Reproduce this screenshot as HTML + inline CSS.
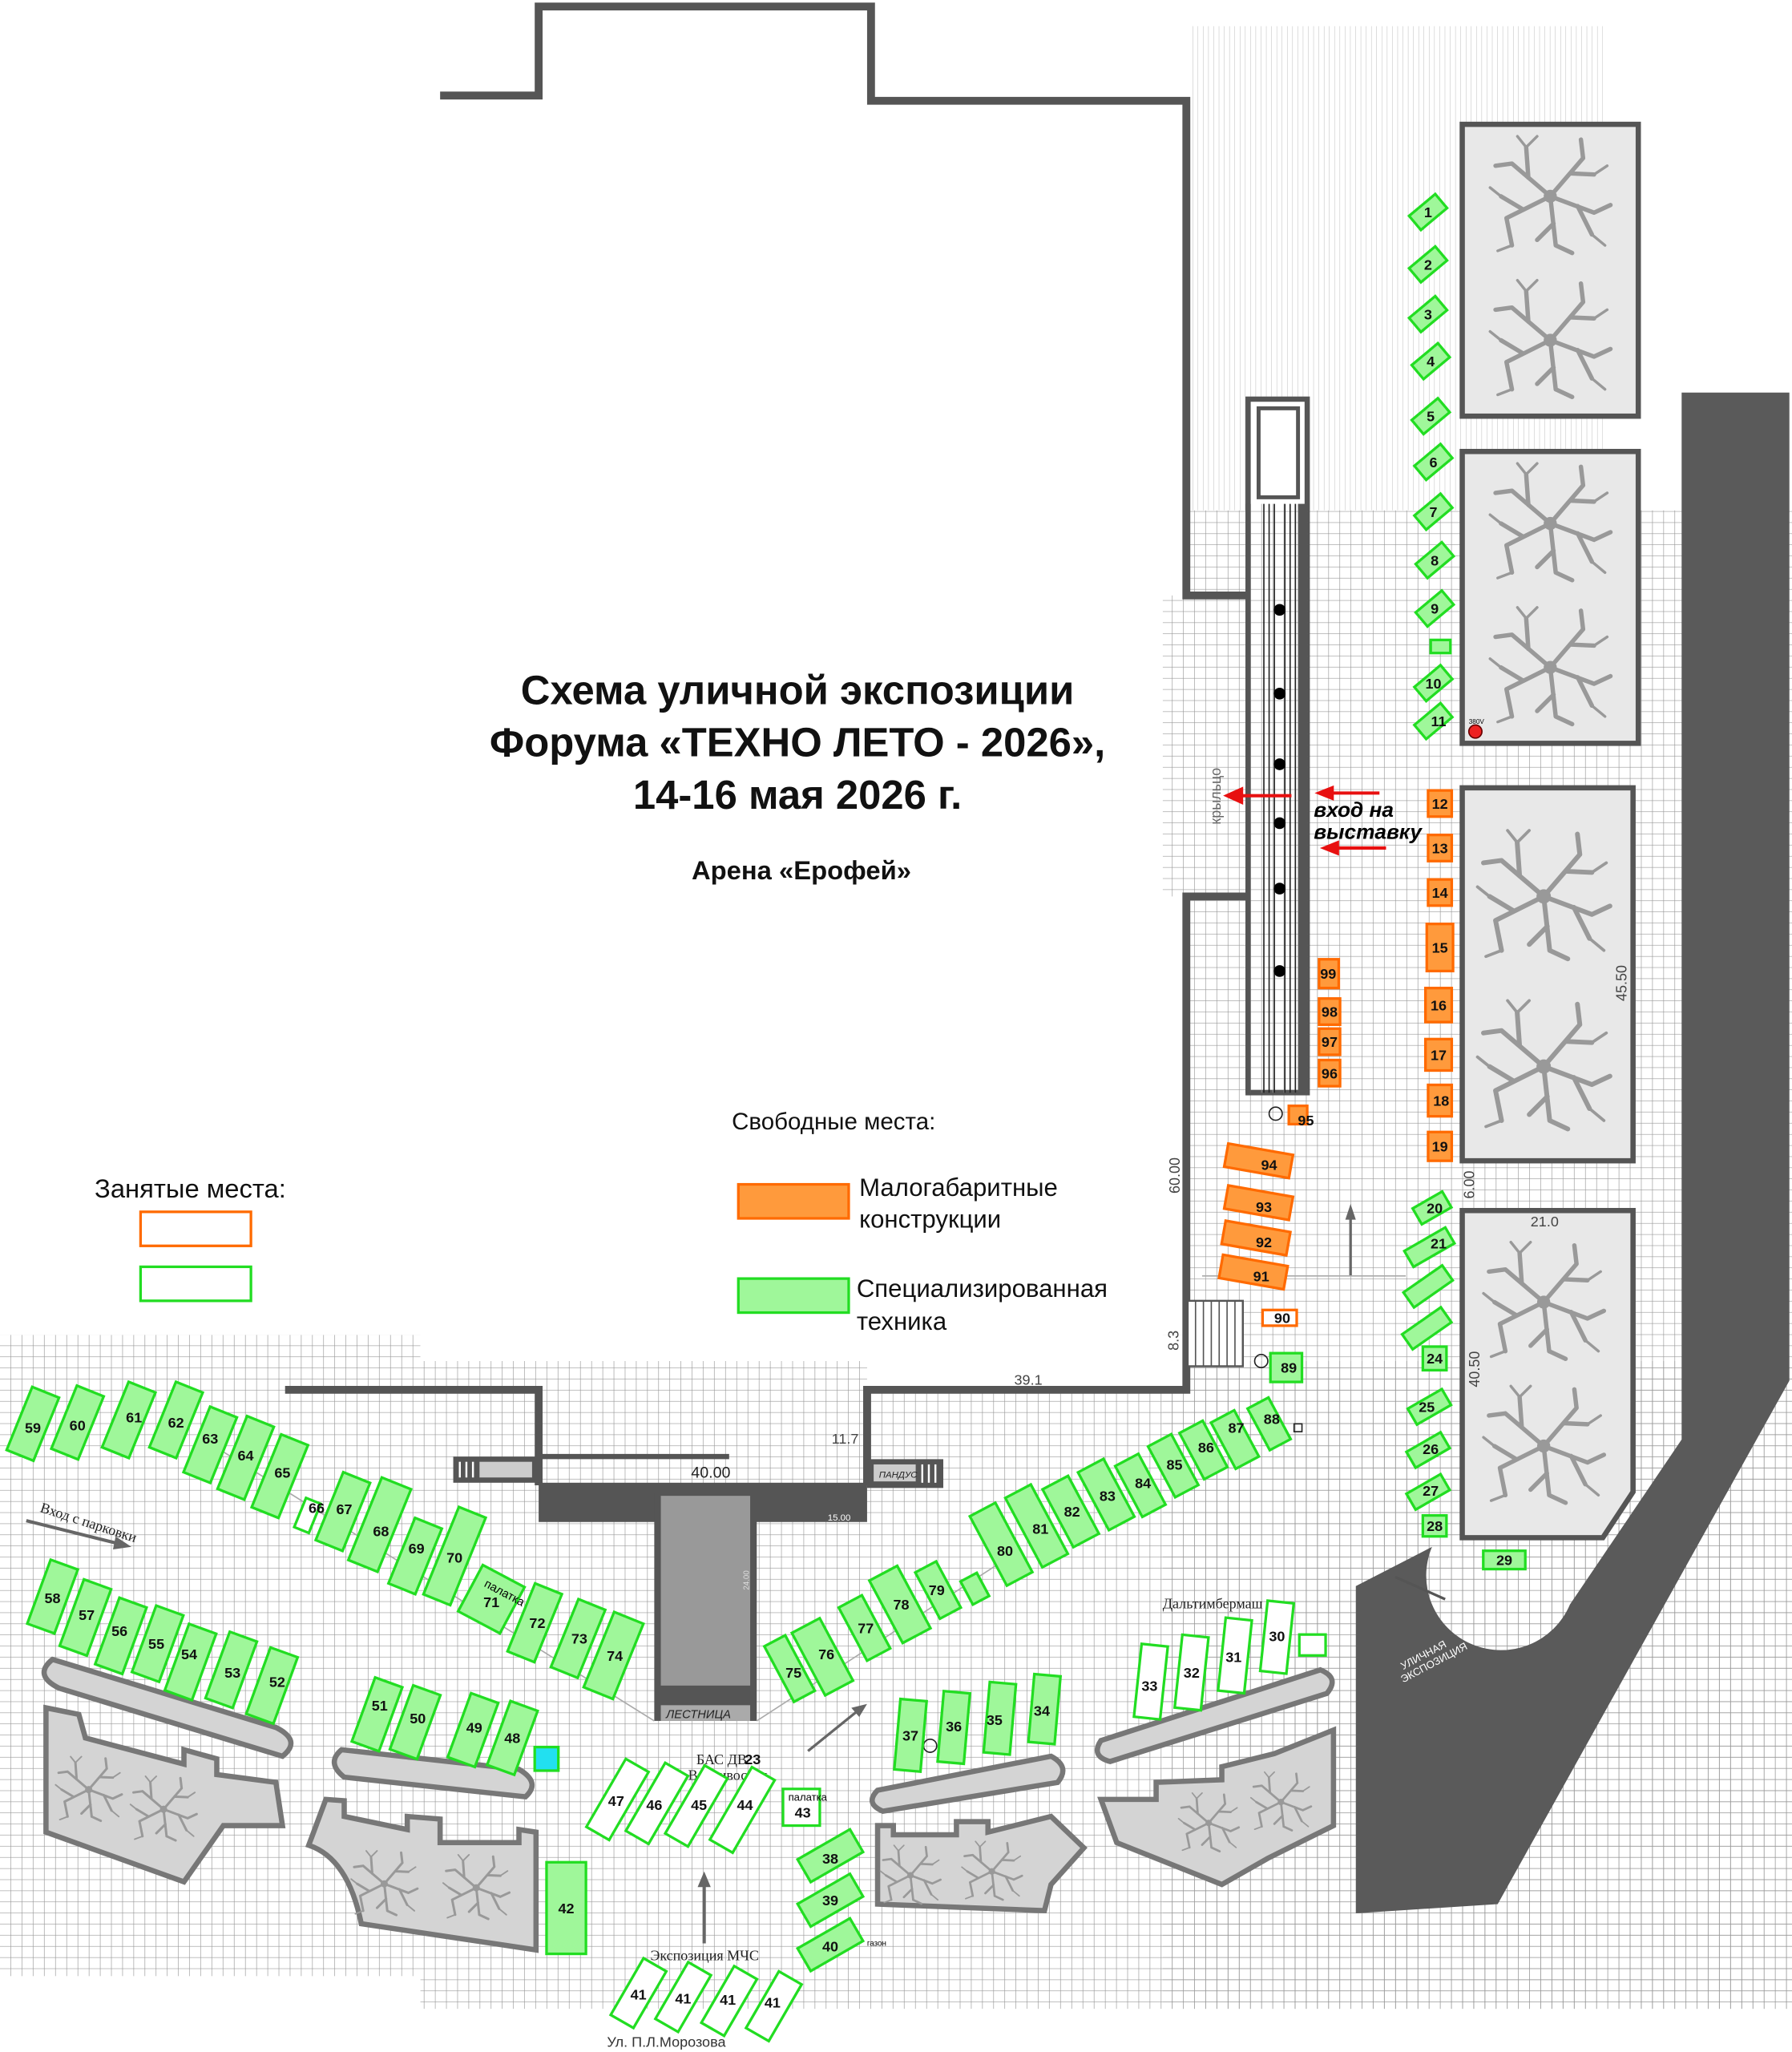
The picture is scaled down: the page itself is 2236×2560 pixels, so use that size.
<!DOCTYPE html>
<html><head><meta charset="utf-8"><style>
html,body{margin:0;padding:0;background:#fff}
svg{display:block}
text{font-family:"Liberation Sans",sans-serif}
.g{fill:#9ff79a;stroke:#22dd22;stroke-width:2}
.o{fill:#ff9a3c;stroke:#ff6a00;stroke-width:2}
.w{fill:#fff;stroke:#22dd22;stroke-width:2}
.wo{fill:#fff;stroke:#ff6a00;stroke-width:2}
.n{font-weight:bold;font-size:11px;text-anchor:middle;fill:#111}
.wall{fill:none;stroke:#555;stroke-width:6}
.pl{fill:#d4d4d4;stroke:#777;stroke-width:4}
.tb{fill:#e8e8e8;stroke:#555;stroke-width:4}
.s{font-family:"Liberation Serif",serif;font-size:11px;fill:#222}
.dim{font-size:11px;fill:#444}
</style></head><body>
<svg width="2236" height="2560" viewBox="0 0 1364 1568" preserveAspectRatio="none" xmlns="http://www.w3.org/2000/svg">
<defs>
<pattern id="grid" width="8.5" height="8.5" patternUnits="userSpaceOnUse">
<path d="M8.5 0V8.5M0 8.5H8.5" stroke="#999" stroke-width="0.8" fill="none"/>
</pattern>
<pattern id="grid2" width="4" height="8.5" patternUnits="userSpaceOnUse">
<path d="M4 0V8.5" stroke="#bbb" stroke-width="0.6" fill="none"/>
</pattern>
<symbol id="tree" viewBox="-60 -60 120 120">
<g stroke="#999" fill="none" stroke-width="4" stroke-linecap="round">
<path d="M0 0L-35 -30M-20 -17L-22 -45M-35 -30L-50 -28M0 0L30 -35M18 -21L40 -20M30 -35L28 -52M0 0L40 15M25 9L38 35M40 15L55 8M0 0L-40 20M-25 12L-45 0M-40 20L-35 45M0 0L5 45M3 25L-12 40M5 45L20 52"/>
<path d="M-22 -45L-30 -55M-22 -45L-12 -55M40 -20L52 -28M38 35L50 45M-35 45L-48 50M-45 0L-55 -8" stroke-width="2.5"/>
</g>
<circle r="6" fill="#999"/>
</symbol>
</defs>

<rect x="905" y="20" width="315" height="370" fill="url(#grid2)"/>
<rect x="885" y="390" width="479" height="1145" fill="url(#grid)"/>
<rect x="0" y="1020" width="320" height="490" fill="url(#grid)"/>
<rect x="320" y="1040" width="1044" height="495" fill="url(#grid)"/>
<rect x="0" y="0" width="903" height="455" fill="#fff"/>
<rect x="0" y="455" width="885" height="230" fill="#fff"/>
<rect x="0" y="685" width="903" height="335" fill="#fff"/>
<rect x="320" y="1020" width="583" height="20" fill="#fff"/>
<rect x="660" y="1040" width="243" height="22" fill="#fff"/>

<polyline class="wall" points="335,73 410,73 410,5 663,5 663,77 903,77 903,455 950,455"/>
<polyline class="wall" points="950,685 903,685 903,1062 660,1062 660,1135"/>
<polyline class="wall" points="217,1062 410,1062 410,1135"/>
<rect x="950" y="305" width="45" height="530" fill="#fff" stroke="#555" stroke-width="4"/>
<rect x="958" y="312" width="30" height="68" fill="#fff" stroke="#555" stroke-width="3"/>
<rect x="950" y="385" width="45" height="450" fill="url(#grid)"/>
<g stroke="#222" stroke-width="1">
<line x1="962" y1="385" x2="962" y2="835"/><line x1="966" y1="385" x2="966" y2="835"/><line x1="970" y1="385" x2="970" y2="835"/><line x1="978" y1="385" x2="978" y2="835"/><line x1="982" y1="385" x2="982" y2="835"/><line x1="986" y1="385" x2="986" y2="835"/>
</g>
<rect x="988" y="385" width="7" height="450" fill="#555"/>
<line x1="950" y1="385" x2="950" y2="835" stroke="#555" stroke-width="4"/>
<g fill="#000"><circle cx="974" cy="466" r="4.5"/><circle cx="974" cy="530" r="4.5"/><circle cx="974" cy="584" r="4.5"/><circle cx="974" cy="629" r="4.5"/><circle cx="974" cy="679" r="4.5"/><circle cx="974" cy="742" r="4.5"/></g>
<g stroke="#e81010" stroke-width="2.5" fill="#e81010">
<line x1="983" y1="608" x2="942" y2="608"/><polygon points="934,608 945,603 945,613"/>
<line x1="1050" y1="606" x2="1012" y2="606"/><polygon points="1004,606 1014,602 1014,610"/>
<line x1="1055" y1="648" x2="1016" y2="648"/><polygon points="1008,648 1018,644 1018,652"/>
</g>
<text x="1000" y="624" font-size="16" font-weight="bold" font-style="italic">вход на</text>
<text x="1000" y="641" font-size="16" font-weight="bold" font-style="italic">выставку</text>
<text transform="translate(929,630) rotate(-90)" font-size="11" fill="#666">крыльцо</text>

<g font-weight="bold" text-anchor="middle" fill="#111">
<text x="607" y="538" font-size="31">Схема уличной экспозиции</text>
<text x="607" y="578" font-size="31">Форума «ТЕХНО ЛЕТО - 2026»,</text>
<text x="607" y="618" font-size="31">14-16 мая 2026 г.</text>
<text x="610" y="672" font-size="20">Арена «Ерофей»</text>
</g>
<text x="557" y="863" font-size="18" fill="#111">Свободные места:</text>
<rect x="562" y="905" width="84" height="26" class="o"/>
<text x="654" y="914" font-size="19" fill="#111">Малогабаритные</text>
<text x="654" y="938" font-size="19" fill="#111">конструкции</text>
<rect x="562" y="977" width="84" height="26" class="g"/>
<text x="652" y="991" font-size="19" fill="#111">Специализированная</text>
<text x="652" y="1016" font-size="19" fill="#111">техника</text>
<text x="72" y="915" font-size="20" fill="#111">Занятые места:</text>
<rect x="107" y="926" width="84" height="26" class="wo"/>
<rect x="107" y="968" width="84" height="26" class="w"/>

<rect class="tb" x="1113" y="95" width="134" height="223"/>
<rect class="tb" x="1113" y="345" width="134" height="223"/>
<rect class="tb" x="1113" y="602" width="130" height="285"/>
<polygon class="tb" points="1113,925 1243,925 1243,1140 1220,1175 1113,1175"/>
<use href="#tree" x="1125" y="100" width="110" height="100"/>
<use href="#tree" x="1125" y="210" width="110" height="100"/>
<use href="#tree" x="1125" y="350" width="110" height="100"/>
<use href="#tree" x="1125" y="460" width="110" height="100"/>
<use href="#tree" x="1120" y="630" width="110" height="110"/>
<use href="#tree" x="1120" y="760" width="110" height="110"/>
<use href="#tree" x="1120" y="945" width="110" height="100"/>
<use href="#tree" x="1120" y="1055" width="110" height="100"/>
<text transform="translate(1238,765) rotate(-90)" class="dim">45.50</text>
<text transform="translate(1126,1060) rotate(-90)" class="dim">40.50</text>
<text x="1165" y="937" class="dim">21.0</text>
<text transform="translate(1122,916) rotate(-90)" class="dim" font-size="10">6.00</text>
<text transform="translate(898,912) rotate(-90)" class="dim">60.00</text>
<text transform="translate(897,1032) rotate(-90)" class="dim">8.3</text>
<text x="772" y="1058" class="dim">39.1</text>
<text x="633" y="1103" class="dim">11.7</text>

<path d="M1280,300 L1362,300 L1362,1055 L1140,1455 L1032,1462 L1032,1212 L1090,1182 A55 55 0 0 0 1195,1226 L1280,1100 Z" fill="#5a5a5a"/>
<text transform="translate(1068,1276) rotate(-28)" font-size="8" fill="#fff">УЛИЧНАЯ</text>
<text transform="translate(1068,1286) rotate(-28)" font-size="8" fill="#fff">ЭКСПОЗИЦИЯ</text>
<line x1="1100" y1="1222" x2="1062" y2="1205" stroke="#555" stroke-width="2"/>

<rect x="345" y="1113" width="65" height="20" fill="#555"/>
<rect x="365" y="1117" width="40" height="12" fill="#ccc"/>
<g stroke="#fff" stroke-width="1.5"><line x1="350" y1="1117" x2="350" y2="1129"/><line x1="355" y1="1117" x2="355" y2="1129"/><line x1="360" y1="1117" x2="360" y2="1129"/></g>
<rect x="660" y="1115" width="58" height="22" fill="#555"/>
<rect x="665" y="1119" width="32" height="13" fill="#ccc"/>
<text x="669" y="1129" font-size="7" font-style="italic" fill="#222">ПАНДУС</text>
<g stroke="#fff" stroke-width="1.5"><line x1="702" y1="1119" x2="702" y2="1133"/><line x1="707" y1="1119" x2="707" y2="1133"/><line x1="712" y1="1119" x2="712" y2="1133"/></g>
<rect x="410" y="1133" width="250" height="30" fill="#555"/>
<line x1="410" y1="1113" x2="555" y2="1113" stroke="#555" stroke-width="4"/>
<text x="526" y="1129" font-size="12" fill="#222">40.00</text>
<text x="630" y="1162" font-size="7" fill="#fff">15.00</text>
<rect x="498" y="1140" width="78" height="175" fill="#555"/>
<rect x="503" y="1143" width="68" height="145" fill="#999"/>
<rect x="503" y="1303" width="68" height="12" fill="#aaa"/>
<text x="507" y="1313" font-size="9" font-style="italic" fill="#222">ЛЕСТНИЦА</text>
<text transform="translate(570,1215) rotate(-90)" font-size="6" fill="#ddd">24.00</text>
<line x1="155" y1="1100" x2="498" y2="1315" stroke="#aaa" stroke-width="1"/>
<line x1="576" y1="1315" x2="760" y2="1195" stroke="#aaa" stroke-width="1"/>

<path class="pl" d="M40,1268 L210,1320 Q230,1330 215,1342 L45,1290 Q25,1280 40,1268 Z"/>
<path class="pl" d="M260,1337 L395,1352 Q412,1362 400,1373 L262,1358 Q248,1347 260,1337 Z"/>
<path class="pl" d="M668,1368 L800,1342 Q815,1350 805,1362 L672,1384 Q658,1378 668,1368 Z"/>
<path class="pl" d="M838,1330 L1005,1276 Q1020,1282 1010,1294 L845,1346 Q830,1342 838,1330 Z"/>
<path class="pl" d="M35,1305 L60,1310 L65,1328 L140,1348 L140,1337 L165,1344 L165,1356 L210,1362 L215,1395 L170,1395 L140,1438 L35,1400 Z"/>
<path class="pl" d="M248,1375 L262,1376 L262,1388 L310,1398 L310,1388 L335,1390 L335,1408 L395,1408 L395,1398 L408,1400 L408,1490 L275,1470 Q265,1420 235,1410 Z"/>
<path class="pl" d="M668,1395 L680,1395 L680,1402 L728,1402 L728,1392 L752,1392 L752,1400 L800,1388 L825,1412 L800,1440 L795,1460 L668,1455 Z"/>
<path class="pl" d="M838,1375 L880,1375 L880,1362 L930,1360 L930,1350 L970,1340 L1015,1322 L1015,1395 L965,1420 L930,1440 L850,1408 Z"/>
<use href="#tree" x="40" y="1340" width="55" height="55"/>
<use href="#tree" x="97" y="1355" width="55" height="55"/>
<use href="#tree" x="265" y="1412" width="55" height="55"/>
<use href="#tree" x="335" y="1415" width="55" height="55"/>
<use href="#tree" x="668" y="1408" width="50" height="50"/>
<use href="#tree" x="730" y="1405" width="50" height="50"/>
<use href="#tree" x="895" y="1368" width="50" height="50"/>
<use href="#tree" x="950" y="1352" width="50" height="50"/>

<text transform="translate(30,1155) rotate(18)" class="s">Вход с парковки</text>
<line x1="20" y1="1162" x2="92" y2="1180" stroke="#666" stroke-width="2.5"/><polygon points="100,1182 88,1174 86,1184" fill="#666"/>
<text x="885" y="1229" class="s">Дальтимбермаш</text>
<text x="530" y="1348" class="s">БАС ДВ</text><text x="573" y="1348" class="n" font-size="11">23</text>
<text x="515" y="1360" class="s">г. Владивосток</text>
<text x="495" y="1498" class="s">Экспозиция МЧС</text>
<text x="462" y="1564" font-size="11" fill="#333">Ул. П.Л.Морозова</text>
<line x1="536" y1="1485" x2="536" y2="1440" stroke="#666" stroke-width="2.5"/><polygon points="536,1430 531,1442 541,1442" fill="#666"/>
<line x1="615" y1="1338" x2="652" y2="1308" stroke="#666" stroke-width="2"/><polygon points="660,1302 648,1305 654,1312" fill="#666"/>
<line x1="1028" y1="975" x2="1028" y2="930" stroke="#666" stroke-width="2"/><polygon points="1028,920 1024,932 1032,932" fill="#666"/>
<line x1="915" y1="975" x2="1070" y2="975" stroke="#aaa" stroke-width="1"/>
<rect x="904" y="994" width="42" height="50" fill="#fff" stroke="#555" stroke-width="1.5"/>
<g stroke="#555" stroke-width="1"><line x1="910" y1="994" x2="910" y2="1044"/><line x1="916" y1="994" x2="916" y2="1044"/><line x1="922" y1="994" x2="922" y2="1044"/><line x1="928" y1="994" x2="928" y2="1044"/><line x1="934" y1="994" x2="934" y2="1044"/><line x1="940" y1="994" x2="940" y2="1044"/></g>
<circle cx="960" cy="1040" r="5" fill="none" stroke="#222"/>
<circle cx="971" cy="851" r="5" fill="none" stroke="#222"/>
<rect x="985" y="1088" width="6" height="6" fill="none" stroke="#222"/>
<circle cx="708" cy="1334" r="5" fill="none" stroke="#222"/>
<circle cx="1123" cy="559" r="5" fill="#e22" stroke="#600"/>
<text x="1118" y="553" font-size="5">380V</text>

<g>
<rect transform="translate(1087,162) rotate(-40)" x="-13" y="-7" width="26" height="14" class="g"/>
<rect transform="translate(1087,202) rotate(-40)" x="-13" y="-7" width="26" height="14" class="g"/>
<rect transform="translate(1087,240) rotate(-40)" x="-13" y="-7" width="26" height="14" class="g"/>
<rect transform="translate(1089,276) rotate(-40)" x="-13" y="-7" width="26" height="14" class="g"/>
<rect transform="translate(1089,318) rotate(-40)" x="-13" y="-7" width="26" height="14" class="g"/>
<rect transform="translate(1091,353) rotate(-40)" x="-13" y="-7" width="26" height="14" class="g"/>
<rect transform="translate(1091,391) rotate(-40)" x="-13" y="-7" width="26" height="14" class="g"/>
<rect transform="translate(1092,428) rotate(-40)" x="-13" y="-7" width="26" height="14" class="g"/>
<rect transform="translate(1092,465) rotate(-40)" x="-13" y="-7" width="26" height="14" class="g"/>
<rect x="1089" y="489" width="15" height="10" class="g" stroke-width="1"/>
<rect transform="translate(1091,522) rotate(-40)" x="-13" y="-7" width="26" height="14" class="g"/>
<rect transform="translate(1091,551) rotate(-40)" x="-13" y="-7" width="26" height="14" class="g"/>
</g>
<g class="n">
<text x="1087" y="166">1</text><text x="1087" y="206">2</text><text x="1087" y="244">3</text><text x="1089" y="280">4</text><text x="1089" y="322">5</text><text x="1091" y="357">6</text><text x="1091" y="395">7</text><text x="1092" y="432">8</text><text x="1092" y="469">9</text><text x="1091" y="526">10</text><text x="1095" y="555">11</text>
</g>
<rect x="1087" y="604" width="18" height="20" class="o"/>
<rect x="1087" y="638" width="18" height="20" class="o"/>
<rect x="1087" y="672" width="18" height="20" class="o"/>
<rect x="1086" y="706" width="20" height="36" class="o"/>
<rect x="1085" y="755" width="20" height="26" class="o"/>
<rect x="1085" y="794" width="20" height="24" class="o"/>
<rect x="1087" y="829" width="18" height="24" class="o"/>
<rect x="1087" y="865" width="18" height="22" class="o"/>
<g class="n">
<text x="1096" y="618">12</text><text x="1096" y="652">13</text><text x="1096" y="686">14</text><text x="1096" y="728">15</text><text x="1095" y="772">16</text><text x="1095" y="810">17</text><text x="1097" y="845">18</text><text x="1096" y="880">19</text>
</g>
<rect transform="translate(1090,923) rotate(-30)" x="-13" y="-7" width="26" height="14" class="g"/>
<rect transform="translate(1088,953) rotate(-30)" x="-18" y="-7" width="36" height="14" class="g"/>
<rect transform="translate(1087,983) rotate(-35)" x="-18" y="-7" width="36" height="14" class="g"/>
<rect transform="translate(1086,1015) rotate(-35)" x="-18" y="-7" width="36" height="14" class="g"/>
<rect x="1083" y="1029" width="18" height="18" class="g"/>
<rect transform="translate(1088,1075) rotate(-30)" x="-15" y="-7" width="30" height="14" class="g"/>
<rect transform="translate(1087,1108) rotate(-30)" x="-15" y="-7" width="30" height="14" class="g"/>
<rect transform="translate(1087,1140) rotate(-30)" x="-15" y="-7" width="30" height="14" class="g"/>
<rect x="1083" y="1158" width="18" height="16" class="g"/>
<rect x="1129" y="1185" width="32" height="14" class="g"/>
<g class="n">
<text x="1092" y="927">20</text><text x="1095" y="954">21</text><text x="1092" y="1042">24</text><text x="1086" y="1079">25</text><text x="1089" y="1111">26</text><text x="1089" y="1143">27</text><text x="1092" y="1170">28</text><text x="1145" y="1196">29</text>
</g>
<rect x="1004" y="733" width="15" height="22" class="o"/>
<rect x="1004" y="763" width="16" height="20" class="o"/>
<rect x="1004" y="786" width="16" height="20" class="o"/>
<rect x="1004" y="810" width="16" height="20" class="o"/>
<rect x="981" y="845" width="14" height="14" class="o" stroke-width="1"/>
<rect transform="translate(958,887) rotate(10)" x="-25" y="-9" width="50" height="18" class="o"/>
<rect transform="translate(958,919) rotate(10)" x="-25" y="-9" width="50" height="18" class="o"/>
<rect transform="translate(956,946) rotate(10)" x="-25" y="-9" width="50" height="18" class="o"/>
<rect transform="translate(954,972) rotate(10)" x="-25" y="-9" width="50" height="18" class="o"/>
<rect x="961" y="1001" width="26" height="12" class="wo"/>
<rect x="967" y="1034" width="24" height="22" class="g"/>
<g class="n">
<text x="1011" y="748">99</text><text x="1012" y="777">98</text><text x="1012" y="800">97</text><text x="1012" y="824">96</text><text x="994" y="860">95</text><text x="966" y="894">94</text><text x="962" y="926">93</text><text x="962" y="953">92</text><text x="960" y="979">91</text><text x="976" y="1011">90</text><text x="981" y="1049">89</text>
</g>

<g>
<rect transform="translate(966,1088) rotate(-28)" x="-9" y="-18" width="18" height="36" class="g"/>
<rect transform="translate(940,1100) rotate(-28)" x="-10" y="-20" width="20" height="40" class="g"/>
<rect transform="translate(916,1108) rotate(-28)" x="-10" y="-20" width="20" height="40" class="g"/>
<rect transform="translate(893,1120) rotate(-28)" x="-10" y="-22" width="20" height="44" class="g"/>
<rect transform="translate(868,1135) rotate(-28)" x="-10" y="-22" width="20" height="44" class="g"/>
<rect transform="translate(842,1142) rotate(-28)" x="-11" y="-25" width="22" height="50" class="g"/>
<rect transform="translate(815,1155) rotate(-28)" x="-11" y="-25" width="22" height="50" class="g"/>
<rect transform="translate(789,1166) rotate(-28)" x="-11" y="-30" width="22" height="60" class="g"/>
<rect transform="translate(762,1180) rotate(-28)" x="-11" y="-30" width="22" height="60" class="g"/>
<rect transform="translate(742,1214) rotate(-28)" x="-7" y="-10" width="14" height="20" class="g"/>
<rect transform="translate(714,1215) rotate(-28)" x="-9" y="-20" width="18" height="40" class="g"/>
<rect transform="translate(685,1226) rotate(-28)" x="-12" y="-27" width="24" height="54" class="g"/>
<rect transform="translate(658,1244) rotate(-28)" x="-10" y="-23" width="20" height="46" class="g"/>
<rect transform="translate(626,1266) rotate(-28)" x="-12" y="-27" width="24" height="54" class="g"/>
<rect transform="translate(601,1275) rotate(-28)" x="-9" y="-24" width="18" height="48" class="g"/>
</g>
<g class="n">
<text x="968" y="1088">88</text><text x="941" y="1095">87</text><text x="918" y="1110">86</text><text x="894" y="1123">85</text><text x="870" y="1137">84</text><text x="843" y="1147">83</text><text x="816" y="1159">82</text><text x="792" y="1172">81</text><text x="765" y="1189">80</text><text x="713" y="1219">79</text><text x="686" y="1230">78</text><text x="659" y="1248">77</text><text x="629" y="1268">76</text><text x="604" y="1282">75</text>
</g>

<g>
<rect transform="translate(25,1088) rotate(22)" x="-11" y="-26" width="22" height="52" class="g"/>
<rect transform="translate(59,1087) rotate(22)" x="-11" y="-26" width="22" height="52" class="g"/>
<rect transform="translate(98,1085) rotate(22)" x="-11" y="-27" width="22" height="54" class="g"/>
<rect transform="translate(134,1085) rotate(22)" x="-11" y="-27" width="22" height="54" class="g"/>
<rect transform="translate(160,1104) rotate(22)" x="-11" y="-27" width="22" height="54" class="g"/>
<rect transform="translate(187,1114) rotate(22)" x="-11" y="-30" width="22" height="60" class="g"/>
<rect transform="translate(213,1128) rotate(22)" x="-11" y="-30" width="22" height="60" class="g"/>
<rect transform="translate(234,1158) rotate(22)" x="-6" y="-12" width="12" height="24" class="w" stroke-width="1.5"/>
<rect transform="translate(261,1155) rotate(22)" x="-11" y="-28" width="22" height="56" class="g"/>
<rect transform="translate(289,1165) rotate(22)" x="-12" y="-34" width="24" height="68" class="g"/>
<rect transform="translate(316,1189) rotate(22)" x="-11" y="-27" width="22" height="54" class="g"/>
<rect transform="translate(346,1189) rotate(22)" x="-11" y="-36" width="22" height="72" class="g"/>
<rect transform="translate(374,1222) rotate(28)" x="-18" y="-20" width="36" height="40" class="g"/>
<rect transform="translate(407,1240) rotate(22)" x="-11" y="-28" width="22" height="56" class="g"/>
<rect transform="translate(440,1252) rotate(22)" x="-11" y="-28" width="22" height="56" class="g"/>
<rect transform="translate(467,1265) rotate(22)" x="-12" y="-31" width="24" height="62" class="g"/>
</g>
<g class="n">
<text x="25" y="1095">59</text><text x="59" y="1093">60</text><text x="102" y="1087">61</text><text x="134" y="1091">62</text><text x="160" y="1103">63</text><text x="187" y="1116">64</text><text x="215" y="1129">65</text><text x="241" y="1156">66</text><text x="262" y="1157">67</text><text x="290" y="1174">68</text><text x="317" y="1187">69</text><text x="346" y="1194">70</text><text x="374" y="1228">71</text><text x="409" y="1244">72</text><text x="441" y="1256">73</text><text x="468" y="1269">74</text>
</g>
<text transform="translate(368,1212) rotate(28)" font-size="9">палатка</text>

<g>
<rect transform="translate(40,1220) rotate(20)" x="-11" y="-26" width="22" height="52" class="g"/>
<rect transform="translate(65,1236) rotate(20)" x="-11" y="-27" width="22" height="54" class="g"/>
<rect transform="translate(92,1250) rotate(20)" x="-11" y="-27" width="22" height="54" class="g"/>
<rect transform="translate(120,1256) rotate(20)" x="-11" y="-27" width="22" height="54" class="g"/>
<rect transform="translate(145,1270) rotate(20)" x="-11" y="-27" width="22" height="54" class="g"/>
<rect transform="translate(176,1276) rotate(20)" x="-11" y="-27" width="22" height="54" class="g"/>
<rect transform="translate(207,1288) rotate(20)" x="-11" y="-27" width="22" height="54" class="g"/>
</g>
<g class="n">
<text x="40" y="1225">58</text><text x="66" y="1238">57</text><text x="91" y="1250">56</text><text x="119" y="1260">55</text><text x="144" y="1268">54</text><text x="177" y="1282">53</text><text x="211" y="1289">52</text>
</g>
<rect transform="translate(287,1310) rotate(20)" x="-11" y="-26" width="22" height="52" class="g"/>
<rect transform="translate(316,1316) rotate(20)" x="-11" y="-26" width="22" height="52" class="g"/>
<rect transform="translate(360,1322) rotate(20)" x="-11" y="-26" width="22" height="52" class="g"/>
<rect transform="translate(390,1328) rotate(20)" x="-11" y="-26" width="22" height="52" class="g"/>
<rect x="407" y="1335" width="18" height="18" fill="#22e0f0" stroke="#22dd22" stroke-width="2"/>
<g class="n"><text x="289" y="1307">51</text><text x="318" y="1317">50</text><text x="361" y="1324">49</text><text x="390" y="1332">48</text></g>
<g>
<rect transform="translate(470,1375) rotate(30)" x="-10" y="-30" width="20" height="60" class="w"/>
<rect transform="translate(500,1378) rotate(30)" x="-10" y="-30" width="20" height="60" class="w"/>
<rect transform="translate(530,1380) rotate(30)" x="-10" y="-30" width="20" height="60" class="w"/>
<rect transform="translate(565,1383) rotate(30)" x="-10" y="-32" width="20" height="64" class="w"/>
<rect x="596" y="1367" width="28" height="28" class="w"/>
<rect x="416" y="1423" width="30" height="70" class="g"/>
</g>
<g class="n"><text x="469" y="1380">47</text><text x="498" y="1383">46</text><text x="532" y="1383">45</text><text x="567" y="1383">44</text><text x="611" y="1389">43</text><text x="431" y="1462">42</text></g>
<text x="600" y="1376" font-size="8">палатка</text>
<rect transform="translate(632,1418) rotate(-30)" x="-23" y="-10" width="46" height="20" class="g"/>
<rect transform="translate(632,1452) rotate(-30)" x="-23" y="-10" width="46" height="20" class="g"/>
<rect transform="translate(632,1486) rotate(-30)" x="-23" y="-10" width="46" height="20" class="g"/>
<g class="n"><text x="632" y="1424">38</text><text x="632" y="1456">39</text><text x="632" y="1491">40</text></g>
<text x="660" y="1487" font-size="6">газон</text>
<g>
<rect transform="translate(486,1523) rotate(30)" x="-10" y="-25" width="20" height="50" class="w"/>
<rect transform="translate(520,1526) rotate(30)" x="-10" y="-25" width="20" height="50" class="w"/>
<rect transform="translate(555,1529) rotate(30)" x="-10" y="-25" width="20" height="50" class="w"/>
<rect transform="translate(589,1533) rotate(30)" x="-10" y="-25" width="20" height="50" class="w"/>
</g>
<g class="n"><text x="486" y="1528">41</text><text x="520" y="1531">41</text><text x="554" y="1532">41</text><text x="588" y="1534">41</text></g>
<rect transform="translate(693,1326) rotate(5)" x="-10" y="-27" width="20" height="54" class="g"/>
<rect transform="translate(726,1320) rotate(5)" x="-10" y="-27" width="20" height="54" class="g"/>
<rect transform="translate(761,1313) rotate(5)" x="-10" y="-27" width="20" height="54" class="g"/>
<rect transform="translate(795,1306) rotate(5)" x="-10" y="-26" width="20" height="52" class="g"/>
<g class="n"><text x="693" y="1330">37</text><text x="726" y="1323">36</text><text x="757" y="1318">35</text><text x="793" y="1311">34</text></g>
<rect transform="translate(876,1285) rotate(6)" x="-10" y="-28" width="20" height="56" class="w"/>
<rect transform="translate(907,1278) rotate(6)" x="-10" y="-28" width="20" height="56" class="w"/>
<rect transform="translate(940,1265) rotate(6)" x="-10" y="-28" width="20" height="56" class="w"/>
<rect transform="translate(972,1251) rotate(6)" x="-10" y="-27" width="20" height="54" class="w"/>
<rect x="989" y="1249" width="20" height="16" class="w" stroke-width="1.5"/>
<g class="n"><text x="875" y="1292">33</text><text x="907" y="1282">32</text><text x="939" y="1270">31</text><text x="972" y="1254">30</text></g>
</svg>
</body></html>
